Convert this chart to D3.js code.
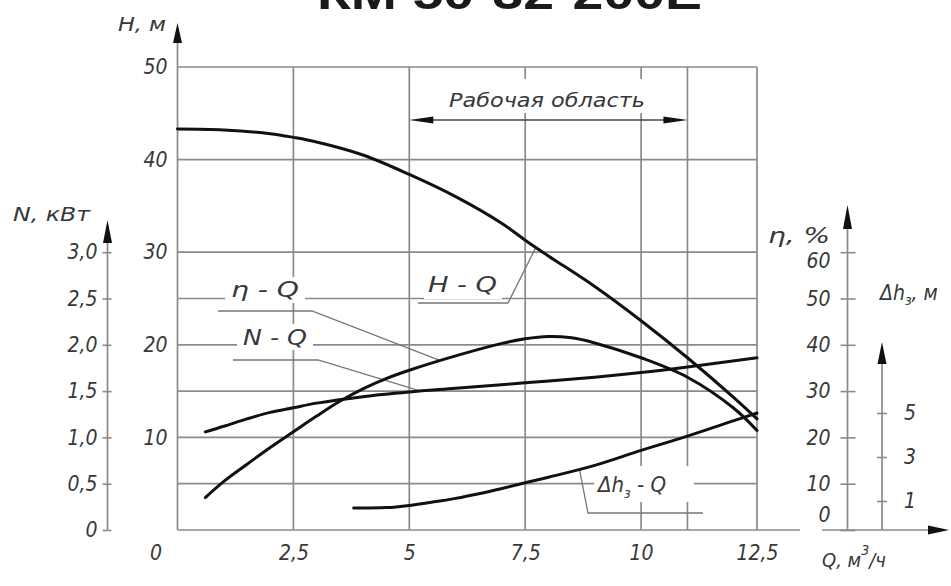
<!DOCTYPE html>
<html>
<head>
<meta charset="utf-8">
<script src="https://cdn.jsdelivr.net/npm/d3@7"></script>
<style>
  html, body { margin: 0; padding: 0; background: #fff; }
  svg { display: block; }
</style>
</head>
<body>
<svg id="chart" width="951" height="586"></svg>
<script>
// ---- data -------------------------------------------------------------
const title = "КМ 50-32-200Е";

// Q, m3/h
const qTicks = [2.5, 5, 7.5, 10, 12.5];
const qTickLabels = ["2,5", "5", "7,5", "10", "12,5"];
const qGrid = [2.5, 5, 7.5, 10, 11, 12.5];
const workRange = [5, 11];

// H, m
const hTicks = [10, 20, 30, 40, 50];
const hGrid = [0, 5, 10, 15, 20, 25, 30, 40, 50];

// N, kW
const nTicks = [0, 0.5, 1, 1.5, 2, 2.5, 3];
const nTickLabels = ["0", "0,5", "1,0", "1,5", "2,0", "2,5", "3,0"];

// efficiency, %
const etaTicks = [0, 10, 20, 30, 40, 50, 60];

// NPSH, m
const dhTicks = [1, 3, 5];

// H-Q
const qHead = [0, 1, 2, 2.5, 3, 4, 5, 6, 7, 7.5, 8, 9, 10, 11, 12, 12.5];
const head  = [43.3, 43.2, 42.8, 42.4, 41.9, 40.5, 38.4, 36.0, 33.1, 31.3, 29.6, 26.3, 22.6, 18.6, 14.3, 12.0];

// η-Q
const qEta = [0.6, 1, 1.5, 2, 2.5, 3, 3.5, 4, 4.5, 5, 6, 7, 7.5, 8, 8.5, 9, 10, 11, 12, 12.5];
const eta  = [7.0, 10.5, 14.2, 17.8, 21.2, 24.6, 27.8, 30.5, 32.7, 34.5, 37.6, 40.3, 41.3, 41.8, 41.5, 40.4, 37.2, 33.0, 26.3, 21.5];

// N-Q
const qPower = [0.6, 1, 1.5, 2, 2.5, 3, 4, 5, 6, 7.5, 9, 10, 11, 12.5];
const power  = [1.06, 1.12, 1.2, 1.27, 1.32, 1.37, 1.44, 1.49, 1.53, 1.59, 1.65, 1.70, 1.76, 1.86];

// Δh-Q
const qNpsh = [3.8, 4.5, 5, 5.5, 6, 6.5, 7, 7.5, 8, 9, 10, 11, 12, 12.5];
const npsh  = [0.68, 0.7, 0.8, 0.95, 1.12, 1.33, 1.57, 1.83, 2.08, 2.62, 3.3, 3.95, 4.65, 5.0];

// ---- scales -----------------------------------------------------------
const x    = d3.scaleLinear([0, 12.5], [177.5, 757]);
const yH   = d3.scaleLinear([0, 50], [530, 67]);
const yN   = d3.scaleLinear([0, 3], [530, 252.2]);
const yEta = d3.scaleLinear([0, 60], [530, 252.2]);
const yDh  = d3.scaleLinear([0, 5], [523, 413]);

const svg = d3.select("#chart");
const FONT = "'DejaVu Sans Condensed','Liberation Sans Narrow','DejaVu Sans',sans-serif";
const TXT = "#383838";
const GRID = "#8a8a8a";

svg.append("rect").attr("width", 951).attr("height", 586).attr("fill", "#fff");

// ---- title (runs off the top edge) -------------------------------------
svg.append("text")
  .attr("x", 317).attr("y", 9)
  .attr("textLength", 385).attr("lengthAdjust", "spacingAndGlyphs")
  .style("font-family", "'Liberation Sans','DejaVu Sans',sans-serif")
  .style("font-weight", "bold").style("font-size", "44px")
  .attr("fill", "#1a1a1a")
  .text(title);

// ---- grid -------------------------------------------------------------
const grid = svg.append("g").attr("stroke", GRID).attr("stroke-width", 1.7);
grid.selectAll(".hg").data(hGrid).join("line")
  .attr("x1", x(0)).attr("x2", x(12.5))
  .attr("y1", d => yH(d)).attr("y2", d => yH(d));
grid.selectAll(".vg").data(qGrid).join("line")
  .attr("x1", d => x(d)).attr("x2", d => x(d))
  .attr("y1", yH(0)).attr("y2", yH(50));
// bottom line continues past the frame
grid.append("line").attr("x1", x(12.5)).attr("x2", 800).attr("y1", yH(0)).attr("y2", yH(0));

// ---- helpers ----------------------------------------------------------
function arrowUp(xp, tip, base, w = 4.5) {
  svg.append("path")
    .attr("d", `M${xp},${tip} L${xp - w},${base} L${xp + w},${base} Z`)
    .attr("fill", "#111");
}
function vAxisLine(xp, yBottom, yTop) {
  svg.append("line").attr("x1", xp).attr("x2", xp).attr("y1", yBottom).attr("y2", yTop)
    .attr("stroke", GRID).attr("stroke-width", 1.7);
}
function styleAxis(g) {
  g.select(".domain").remove();
  g.selectAll(".tick line").attr("stroke", GRID).attr("stroke-width", 1.6);
  g.selectAll("text")
    .style("font-family", FONT).style("font-style", "italic")
    .style("font-size", "21px").attr("fill", TXT);
}
function interp(qs, vs, q) {
  const i = Math.max(1, Math.min(qs.length - 1, d3.bisectLeft(qs, q)));
  const t = (q - qs[i - 1]) / (qs[i] - qs[i - 1]);
  return vs[i - 1] + t * (vs[i] - vs[i - 1]);
}
function label(txt, xp, yp, size, len) {
  const t = svg.append("text").attr("x", xp).attr("y", yp)
    .style("font-family", FONT).style("font-style", "italic")
    .style("font-size", size + "px").attr("fill", TXT);
  if (len) t.attr("textLength", len).attr("lengthAdjust", "spacingAndGlyphs");
  return t.text(txt);
}

// ---- H axis -------------------------------------------------------------
vAxisLine(x(0), yH(0), 42);
arrowUp(x(0), 23, 43);
svg.append("g").attr("transform", `translate(${x(0)},0)`)
  .call(d3.axisLeft(yH).tickValues(hTicks).tickSize(0).tickPadding(10))
  .call(styleAxis);
label("H, м", 118, 31, 20, 48);

// ---- Q axis labels ------------------------------------------------------
svg.append("g").attr("transform", `translate(0,${yH(0)})`)
  .call(d3.axisBottom(x).tickValues(qTicks).tickSize(0).tickPadding(15)
    .tickFormat((d, i) => qTickLabels[i]))
  .call(styleAxis);
label("0", 150, 560, 21);

// ---- N axis -------------------------------------------------------------
const nx = 107.5;
vAxisLine(nx, yN(0), 242);
arrowUp(nx, 220, 243);
svg.append("g").attr("transform", `translate(${nx},0)`)
  .call(d3.axisLeft(yN).tickValues(nTicks).tickSize(5).tickPadding(5)
    .tickFormat((d, i) => nTickLabels[i]))
  .call(styleAxis);
svg.append("g").attr("transform", `translate(${nx},0)`)
  .call(d3.axisRight(yN).tickValues(nTicks).tickSize(4).tickFormat(""))
  .call(styleAxis);
label("N, кВт", 13, 221, 19, 77);

// ---- η axis -------------------------------------------------------------
const ex = 847.5;
vAxisLine(ex, yEta(0), 228);
arrowUp(ex, 205, 229);
const etaG = svg.append("g").attr("transform", `translate(${ex},0)`)
  .call(d3.axisLeft(yEta).tickValues(etaTicks).tickSize(7).tickPadding(10))
  .call(styleAxis);
etaG.selectAll(".tick").filter(d => d === 0).select("text").attr("dy", "-0.4em");
etaG.selectAll(".tick").filter(d => d === 60).select("text").attr("dy", "0.75em");
svg.append("g").attr("transform", `translate(${ex},0)`)
  .call(d3.axisRight(yEta).tickValues(etaTicks).tickSize(8).tickFormat(""))
  .call(styleAxis);
label("η, %", 768, 243, 22, 62);

// ---- Δh axis ------------------------------------------------------------
const dx = 882;
vAxisLine(dx, yH(0), 363);
arrowUp(dx, 342, 364);
svg.append("g").attr("transform", `translate(${dx},0)`)
  .call(d3.axisRight(yDh).tickValues(dhTicks).tickSize(5).tickPadding(17)
    .tickFormat(d3.format("d")))
  .call(styleAxis);
svg.append("g").attr("transform", `translate(${dx},0)`)
  .call(d3.axisLeft(yDh).tickValues(dhTicks).tickSize(5).tickFormat(""))
  .call(styleAxis);
const dhLab = label("", 880, 300, 21);
dhLab.append("tspan").text("Δh");
dhLab.append("tspan").attr("dy", 5).style("font-size", "14px").text("з");
dhLab.append("tspan").attr("dy", -5).text(", м");

// ---- second Q axis (bottom right) --------------------------------------
svg.append("line").attr("x1", 822).attr("x2", 930).attr("y1", yH(0)).attr("y2", yH(0))
  .attr("stroke", GRID).attr("stroke-width", 1.7);
svg.append("path").attr("d", `M949,${yH(0)} L928,${yH(0) - 4.5} L928,${yH(0) + 4.5} Z`).attr("fill", "#111");
const qLab = label("", 822, 567, 20);
qLab.append("tspan").text("Q, м");
qLab.append("tspan").attr("dy", -12).style("font-size", "14px").text("3");
qLab.append("tspan").attr("dy", 12).text("/ч");

// ---- working range ------------------------------------------------------
svg.append("rect").attr("x", 445).attr("y", 79).attr("width", 204).attr("height", 34).attr("fill", "#fff");
label("Рабочая область", 449, 107, 20, 196);
const wy = 120;
svg.append("line").attr("x1", x(workRange[0]) + 10).attr("x2", x(workRange[1]) - 10)
  .attr("y1", wy).attr("y2", wy).attr("stroke", "#444").attr("stroke-width", 1.5);
svg.append("path").attr("d", `M${x(workRange[0])},${wy} L${x(workRange[0]) + 24},${wy - 3.5} L${x(workRange[0]) + 24},${wy + 3.5} Z`).attr("fill", "#111");
svg.append("path").attr("d", `M${x(workRange[1])},${wy} L${x(workRange[1]) - 24},${wy - 3.5} L${x(workRange[1]) - 24},${wy + 3.5} Z`).attr("fill", "#111");

// ---- curve labels with leaders -----------------------------------------
const leaders = [
  { text: "η - Q", box: [225, 277, 80, 26], tx: 231, ty: 297, w: 68, under: [218, 312, 311], q: 5.67, qs: qEta, vs: eta, y: yEta },
  { text: "N - Q", box: [237, 324, 76, 26], tx: 243, ty: 345, w: 64, under: [233, 318, 360], q: 5.25, qs: qPower, vs: power, y: yN },
  { text: "H - Q", box: [424, 272, 78, 27], tx: 428, ty: 292, w: 69, under: [418, 508, 303], q: 7.73, qs: qHead, vs: head, y: yH },
];
leaders.forEach(d => {
  svg.append("rect").attr("x", d.box[0]).attr("y", d.box[1]).attr("width", d.box[2]).attr("height", d.box[3]).attr("fill", "#fff");
  label(d.text, d.tx, d.ty, 22, d.w);
  svg.append("path")
    .attr("d", `M${d.under[0]},${d.under[2]} L${d.under[1]},${d.under[2]} L${x(d.q)},${d.y(interp(d.qs, d.vs, d.q))}`)
    .attr("fill", "none").attr("stroke", "#777").attr("stroke-width", 1.3);
});
// Δh-Q label
svg.append("rect").attr("x", 594).attr("y", 466).attr("width", 100).attr("height", 36).attr("fill", "#fff");
const dq = label("", 598, 492, 22);
dq.append("tspan").text("Δh");
dq.append("tspan").attr("dy", 6).style("font-size", "14px").text("з");
dq.append("tspan").attr("dy", -6).text(" - Q");
svg.append("path")
  .attr("d", `M703,513 L588,513 L${x(8.67)},${yDh(interp(qNpsh, npsh, 8.67))}`)
  .attr("fill", "none").attr("stroke", "#777").attr("stroke-width", 1.3);

// ---- curves -------------------------------------------------------------
function curve(qs, vs, y, width) {
  const line = d3.line().x(d => x(d[0])).y(d => y(d[1])).curve(d3.curveCatmullRom.alpha(0.5));
  svg.append("path").attr("d", line(qs.map((q, i) => [q, vs[i]])))
    .attr("fill", "none").attr("stroke", "#111").attr("stroke-width", width)
    .attr("stroke-linecap", "round");
}
curve(qHead, head, yH, 3);
curve(qEta, eta, yEta, 3);
curve(qPower, power, yN, 3);
curve(qNpsh, npsh, yDh, 3);
</script>
</body>
</html>
